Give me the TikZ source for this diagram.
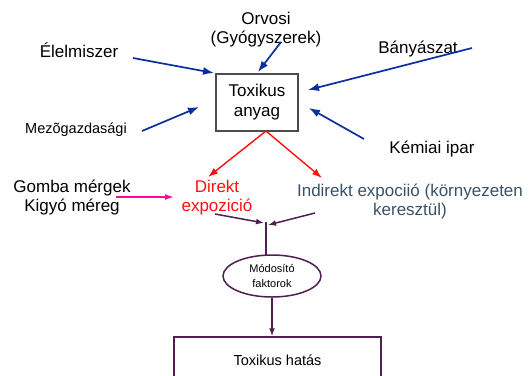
\documentclass[tikz,border=0pt]{standalone}
\usepackage{fontspec}
\setmainfont{Liberation Sans}
\usepackage{tikz}
\usetikzlibrary{arrows.meta,positioning,calc,shapes.geometric}
\usepackage{xcolor}
\definecolor{srcblue}{HTML}{0B2FA0}
\definecolor{expred}{HTML}{FF1010}
\definecolor{gombapink}{HTML}{FF0A9A}
\definecolor{modpurple}{HTML}{4E1F50}
\definecolor{indslate}{HTML}{3A5268}
\tikzset{
  lbl/.style     = {inner sep=0pt, align=center, font=\fontsize{17}{19}\selectfont},
  small/.style   = {inner sep=0pt, align=center, font=\fontsize{14.5}{17}\selectfont},
  block/.style   = {draw=black!70, line width=1.1pt, rectangle, align=center,
                    font=\fontsize{17}{20}\selectfont},
  modnode/.style = {draw=modpurple, line width=1.5pt, ellipse, inner sep=0pt, align=center,
                    font=\fontsize{11}{15}\selectfont},
  src/.style     = {-{Latex[length=11pt,width=8pt]}, srcblue, line width=1.7pt},
  expo/.style    = {-{Latex[length=10pt,width=7pt]}, expred, line width=1.4pt},
  pinkarr/.style = {-{Latex[length=9pt,width=6pt]}, gombapink, line width=1.5pt},
  modarr/.style  = {-{Latex[length=8pt,width=6pt]}, modpurple, line width=1.5pt},
}
\begin{document}
\begin{tikzpicture}[x=1pt,y=-1pt]
\clip (0,0) rectangle (532,375);
\fill[white] (0,0) rectangle (532,375);
% forrasok
\node[lbl] (orvosi) at (266,30) {Orvosi\\(Gyógyszerek)};
\node[lbl] (elelem) at (79,50) {Élelmiszer};
\node[lbl] (banya) at (418,49) {Bányászat};
\node[small] (mezo) at (76,130) {Mezõgazdasági};
\node[lbl] (kemia) at (432,149) {Kémiai ipar};
\node[block,minimum width=82pt,minimum height=57pt] (tox) at (257,102.5) {Toxikus\\anyag};
\coordinate (elS) at (133,58);  \coordinate (elE) at (214,73);
\coordinate (orS) at (281,42);  \coordinate (orE) at (258,72);
\coordinate (baS) at (472,48);  \coordinate (baE) at (308,90);
\coordinate (keS) at (364,139); \coordinate (keE) at (309,108);
\coordinate (meS) at (142,131); \coordinate (meE) at (199,107);
\draw[src] (elS) -- (elE);
\draw[src] (orS) -- (orE);
\draw[src] (baS) -- (baE);
\draw[src] (keS) -- (keE);
\draw[src] (meS) -- (meE);
% expozicio
\node[lbl,text=expred] (direkt) at (217,198) {Direkt\\expozició};
\node[lbl,text=indslate] (indirekt) at (410,201) {Indirekt expociió (környezeten\\keresztül)};
\node[lbl] (gomba) at (72,197.5) {Gomba mérgek\\Kigyó méreg};
\coordinate (apex) at (266,131);
\coordinate (dirE) at (208,177); \coordinate (indE) at (322,178);
\draw[expo] (apex) -- (dirE);
\draw[expo] (apex) -- (indE);
\coordinate (gkS) at (116,197); \coordinate (gkE) at (174,197);
\draw[pinkarr] (gkS) -- (gkE);
% modosito faktorok
\node[modnode,minimum width=98pt,minimum height=42pt] (modo) at (272,276) {Módosító\\faktorok};
\coordinate (dS) at (215,214); \coordinate (mL) at (264,223);
\coordinate (iS) at (315,213); \coordinate (mR) at (268,225);
\coordinate (mT) at (266,222); \coordinate (mB) at (266,255);
\draw[modarr] (dS) -- (mL);
\draw[modarr] (iS) -- (mR);
\draw[modpurple,line width=1.5pt] (mT) -- (mB);
\node[draw=modpurple,line width=1.5pt,rectangle,minimum width=207pt,minimum height=46pt,
      font=\fontsize{14.5}{17}\selectfont] (hatas) at (277.5,360) {Toxikus hatás};
\draw[modarr] (modo.south) -- (modo.south |- hatas.north);
\end{tikzpicture}
\end{document}
